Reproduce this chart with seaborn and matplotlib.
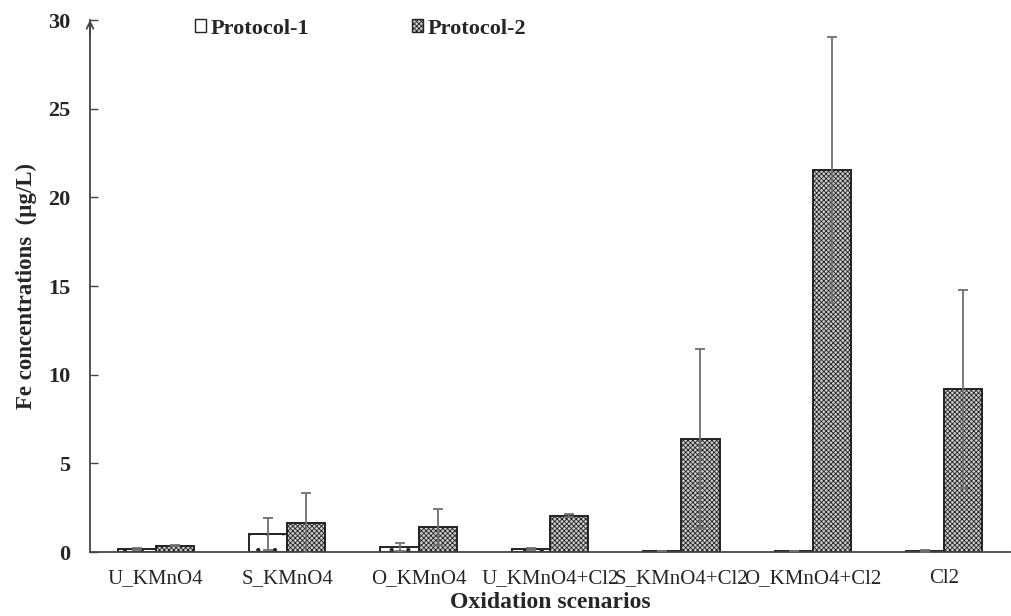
import numpy as np
import pandas as pd
import matplotlib
matplotlib.use("Agg")
import matplotlib.pyplot as plt
import seaborn as sns

categories = ["U_KMnO4", "S_KMnO4", "O_KMnO4", "U_KMnO4+Cl2", "S_KMnO4+Cl2", "O_KMnO4+Cl2", "Cl2"]
protocols = ["Protocol-1", "Protocol-2"]
p1_mean = [0.15, 1.00, 0.28, 0.15, 0.05, 0.05, 0.08]
p1_sd = [0.05, 0.90, 0.20, 0.05, 0.02, 0.02, 0.06]
p2_mean = [0.35, 1.65, 1.40, 2.05, 6.40, 21.55, 9.20]
p2_sd = [0.03, 1.70, 1.00, 0.08, 5.05, 7.50, 5.60]
yticks = [0, 5, 10, 15, 20, 25, 30]

sns.set_theme(style="white")
plt.rcParams['font.family'] = ['Liberation Serif', 'DejaVu Serif']
plt.rcParams['hatch.linewidth'] = 0.6

df = pd.DataFrame({
    "Scenario": categories * 2,
    "Fe": p1_mean + p2_mean,
    "SD": p1_sd + p2_sd,
    "Protocol": [protocols[0]] * len(categories) + [protocols[1]] * len(categories),
})

fig = plt.figure(figsize=(10.11, 6.16), dpi=100)
ax = fig.add_axes([90 / 1011, 64 / 616, 920 / 1011, 532 / 616])

sns.barplot(data=df, x="Scenario", y="Fe", hue="Protocol", order=categories,
            hue_order=protocols, errorbar=None, width=0.58, ax=ax,
            palette=["white", "#c8c8c8"], edgecolor="#222222", linewidth=1.4,
            legend=False)

styles = [dict(hatch=".", fc="white", ec="#222222", hc="#5060a0"),
          dict(hatch="xxxxxxx", fc="#cdcdcd", ec="#222222", hc="#909090")]
sds = [p1_sd, p2_sd]
means = [p1_mean, p2_mean]
handles = []
bar_containers = list(ax.containers)
for i, cont in enumerate(bar_containers):
    xs = []
    for bar in cont:
        bar.set_hatch(styles[i]["hatch"])
        bar.set_facecolor(styles[i]["fc"])
        bar.set_edgecolor(styles[i]["ec"])
        if hasattr(bar, "set_hatchcolor"):
            bar.set_hatchcolor(styles[i]["hc"])
        xs.append(bar.get_x() + bar.get_width() / 2)
    ax.errorbar(xs, means[i], yerr=sds[i], fmt="none", ecolor="#707070",
                elinewidth=1.3, capsize=3.5, capthick=1.3, zorder=10)
    h = plt.Rectangle((0, 0), 1, 1, facecolor=styles[i]["fc"], edgecolor="#222222",
                      hatch=(None if i == 0 else styles[i]["hatch"]), linewidth=1)
    if i == 1 and hasattr(h, "set_hatchcolor"):
        h.set_hatchcolor(styles[i]["hc"])
    handles.append(h)

ax.set_xlim(-0.5, len(categories) - 0.5)
ax.set_ylim(0, 30)
ax.set_yticks(yticks)
ax.set_yticklabels([str(t) for t in yticks], fontsize=16, fontweight="bold")
ax.tick_params(axis="y", direction="in", length=6, width=1, color="#444444", pad=14, left=True)
ax.tick_params(axis="x", length=0, pad=12)
for lab in ax.get_xticklabels():
    lab.set_fontsize(15)

for s in ["top", "right"]:
    ax.spines[s].set_visible(False)
for s in ["left", "bottom"]:
    ax.spines[s].set_color("#444444")
    ax.spines[s].set_linewidth(1.3)

ax.annotate("", xy=(0, 1.0), xytext=(0, 0.97), xycoords="axes fraction",
            arrowprops=dict(arrowstyle="->", lw=1.3, color="#444444",
                            shrinkA=0, shrinkB=0), annotation_clip=False)

ax.set_xlabel("Oxidation scenarios", fontsize=17, fontweight="bold", labelpad=3)
ax.set_ylabel("Fe concentrations  (µg/L)", fontsize=16.5, fontweight="bold", labelpad=8)

leg = ax.legend(handles, protocols, ncol=2, loc="upper left",
                bbox_to_anchor=(0.092, 1.04), frameon=False,
                handlelength=0.5, handleheight=0.5, handletextpad=0.2,
                columnspacing=4.65, prop=dict(weight="bold", size=16))

fig.savefig("out.png", dpi=100)
